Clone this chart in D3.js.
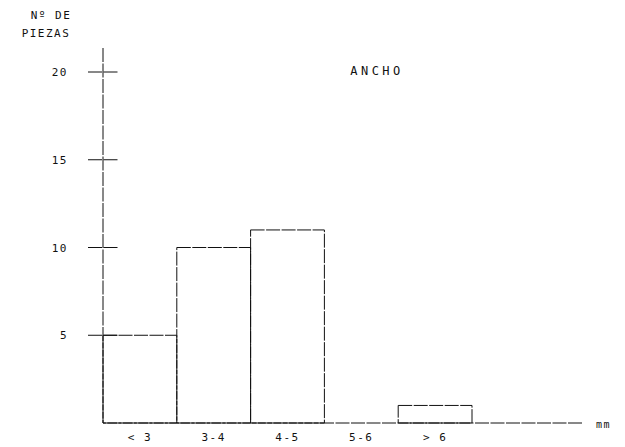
<!DOCTYPE html>
<html>
<head>
<meta charset="utf-8">
<script src="https://cdn.jsdelivr.net/npm/d3@7"></script>
<style>
  body { margin: 0; background: #fff; }
  text { font-family: "DejaVu Sans Mono", monospace; fill: #111; letter-spacing: 1.5px; }
</style>
</head>
<body>
<div class="chart"></div>
<script>
const categories = ["< 3", "3-4", "4-5", "5-6", "> 6"];
const piezas = [5, 10, 11, 0, 1];
const yTicks = [5, 10, 15, 20];

const width = 625, height = 447;
const svg = d3.select(".chart").append("svg")
    .attr("width", width)
    .attr("height", height);

const x = d3.scaleBand()
    .domain(categories)
    .range([103, 472])
    .padding(0);

const y = d3.scaleLinear()
    .domain([0, 20])
    .range([423, 72]);

const line = g => g.attr("stroke", "#111").attr("stroke-width", 1)
    .attr("stroke-dasharray", "14,1.5").attr("fill", "none");

/* y axis line + crossing ticks */
svg.append("line").call(line)
    .attr("x1", 103).attr("x2", 103)
    .attr("y1", 48).attr("y2", y(0));

svg.append("g").selectAll("line")
    .data(yTicks)
    .join("line").call(line)
    .attr("x1", 88).attr("x2", 119)
    .attr("y1", d => y(d)).attr("y2", d => y(d));

svg.append("g").selectAll("text")
    .data(yTicks)
    .join("text")
    .attr("x", 68)
    .attr("y", d => y(d) + 4)
    .attr("text-anchor", "end")
    .attr("font-size", 11)
    .text(d => d);

/* baseline */
svg.append("line").call(line)
    .attr("x1", 103).attr("x2", 583)
    .attr("y1", y(0)).attr("y2", y(0));

/* bars */
svg.append("g").selectAll("rect")
    .data(piezas)
    .join("rect").call(line)
    .attr("x", (d, i) => x(categories[i]))
    .attr("width", x.bandwidth())
    .attr("y", d => y(d))
    .attr("height", d => y(0) - y(d));

/* category labels */
svg.append("g").selectAll("text")
    .data(categories)
    .join("text")
    .attr("x", d => x(d) + x.bandwidth() / 2)
    .attr("y", 441)
    .attr("text-anchor", "middle")
    .attr("font-size", 11)
    .text(d => d);

svg.append("text")
    .attr("x", 596).attr("y", 428)
    .attr("font-size", 10)
    .text("mm");

/* titles */
svg.append("text").attr("x", 51).attr("y", 19)
    .attr("text-anchor", "middle").attr("font-size", 11)
    .text("Nº DE");
svg.append("text").attr("x", 46).attr("y", 37)
    .attr("text-anchor", "middle").attr("font-size", 11)
    .text("PIEZAS");

svg.append("text").attr("x", 377).attr("y", 75)
    .attr("text-anchor", "middle").attr("font-size", 12)
    .style("letter-spacing", "3.5px")
    .text("ANCHO");
</script>
</body>
</html>
